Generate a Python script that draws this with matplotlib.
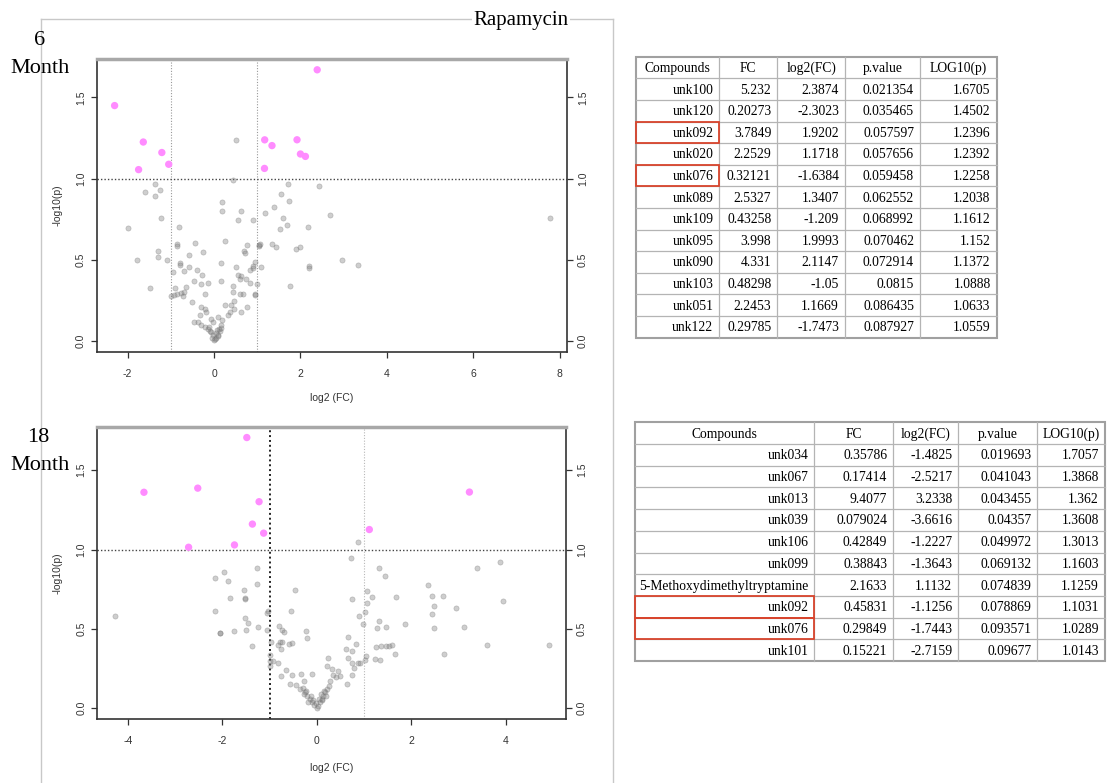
import matplotlib
matplotlib.use("Agg")
import matplotlib.pyplot as plt
from matplotlib.patches import Rectangle

plt.rcParams['axes.unicode_minus'] = False

# ---------------- data ----------------
# 6 month volcano: non-significant points (log2 FC, -log10 p)
top_gray_x = [0.51, 0.435, -1.36, -1.25, -1.61, -1.37, 0.19, 0.19, 0.62, 0.56, 0.91, -1.24, -2.0, -0.82,
              0.26, -0.86, -0.86, -0.435, 0.76, 1.03, -0.26, 0.69, 0.72, -0.57, -1.30, -1.30, -1.79, -1.08,
              0.17, 0.95, -0.80, -0.80, -0.96, -0.70, -0.57, -0.39, 0.51, 0.91, 0.83, -0.27, 0.55, 0.62,
              0.59, -0.455, -0.30, -0.14, 0.15, 0.74, 0.83, -1.49, -0.91, 0.44, -0.65, -1.0, -0.93, -0.85,
              -0.77, -0.72, -0.69, -0.20, 0.67, 0.94, 0.44, 0.61, -0.51, -0.31, -0.22, -0.18, 0.26, 0.40,
              0.47, 0.46, 0.36, 0.32, 0.63, 0.77, -0.33, -0.47, -0.06, -0.03, 0.09, 0.19, -0.37, -0.30,
              -0.22, -0.15, -0.08, -0.03, 0.0, 0.05, 0.10, 0.14, 0.12, -0.12, 0.02, -0.05, 0.08, 0.17,
              -0.10, 0.04, 0.15, 0.06,
              1.71, 2.44, 1.54, 1.74, 1.38, 1.18, 2.68, 1.60, 1.69, 1.53, 2.17, 1.05, 1.07, 1.33, 1.43,
              1.89, 2.0, 2.96, 3.34, 2.19, 2.19, 0.90, 1.08, 0.99, 1.75, 0.94, 7.77]
top_gray_y = [1.24, 0.99, 0.967, 0.932, 0.918, 0.891, 0.854, 0.803, 0.799, 0.743, 0.745, 0.76, 0.698, 0.70,
              0.619, 0.60, 0.585, 0.605, 0.594, 0.588, 0.549, 0.555, 0.545, 0.53, 0.553, 0.517, 0.50, 0.50,
              0.479, 0.49, 0.484, 0.468, 0.428, 0.434, 0.454, 0.438, 0.458, 0.464, 0.44, 0.408, 0.41, 0.404,
              0.38, 0.369, 0.353, 0.36, 0.369, 0.38, 0.358, 0.324, 0.328, 0.338, 0.336, 0.28, 0.285, 0.29,
              0.295, 0.28, 0.30, 0.289, 0.29, 0.29, 0.30, 0.29, 0.238, 0.21, 0.20, 0.18, 0.22, 0.22,
              0.25, 0.20, 0.18, 0.16, 0.18, 0.21, 0.16, 0.116, 0.137, 0.116, 0.147, 0.127, 0.116, 0.10,
              0.09, 0.076, 0.055, 0.035, 0.004, 0.02, 0.04, 0.06, 0.076, 0.085, 0.01, 0.02, 0.03, 0.08,
              0.06, 0.05, 0.10, 0.07,
              0.969, 0.956, 0.905, 0.862, 0.827, 0.786, 0.778, 0.76, 0.713, 0.688, 0.70, 0.592, 0.596,
              0.598, 0.582, 0.569, 0.578, 0.50, 0.471, 0.465, 0.45, 0.449, 0.455, 0.352, 0.338, 0.287, 0.758]

# 18 month volcano: non-significant points
bot_gray_x = [-1.257, -1.96, -2.15, -1.89, -1.27, -1.55, -0.47, -1.83, -1.52, -1.52, -2.15, -1.04, -1.05,
              -0.54, -4.28, -1.52, -1.45, -1.24, -1.06, -2.06, -2.05, -1.76, -1.51, -0.81, -0.74, -0.69,
              -0.23, -0.21, -0.97, -0.78, -0.73, -0.83, -0.75, -0.58, -0.53, -1.38, -0.99, -1.0, -1.0,
              -0.92, -0.83, -0.66, -0.755, -0.53, -0.33, -0.27, -0.10, -0.56, -0.43,
              -0.35, -0.30, -0.25, -0.20, -0.15, -0.10, -0.05, 0.0, 0.03, -0.02, -0.28, -0.22, -0.12,
              -0.08, 0.06, 0.10, 0.14, 0.18, 0.22, 0.26, 0.12, 0.08, 0.20, 0.16, -0.18, 0.04,
              0.88, 0.726, 1.325, 1.44, 3.39, 3.88, 2.35, 3.95, 1.065, 1.18, 1.68, 2.45, 2.67, 0.75, 1.07,
              2.48, 2.95, 2.44, 1.03, 0.89, 1.32, 0.98, 1.28, 1.47, 1.87, 2.49, 3.11, 0.656, 0.83, 0.61,
              0.74, 1.25, 1.36, 1.47, 1.54, 1.60, 3.60, 4.91, 1.66, 2.69, 1.04, 1.02, 1.24, 1.33, 0.24,
              0.67, 0.87, 0.92, 0.74, 0.78, 0.225, 0.32, 0.44, 0.49, 0.35, 0.75, 0.65, 0.40, 0.28]
bot_gray_y = [0.881, 0.86, 0.818, 0.803, 0.783, 0.745, 0.747, 0.693, 0.69, 0.695, 0.613, 0.61, 0.60,
              0.61, 0.578, 0.57, 0.537, 0.514, 0.494, 0.471, 0.475, 0.485, 0.49, 0.52, 0.494, 0.48,
              0.488, 0.44, 0.42, 0.42, 0.42, 0.40, 0.37, 0.405, 0.41, 0.392, 0.338, 0.296, 0.265,
              0.296, 0.283, 0.24, 0.203, 0.21, 0.215, 0.17, 0.215, 0.15, 0.145,
              0.12, 0.13, 0.10, 0.08, 0.06, 0.04, 0.02, 0.003, 0.015, 0.03, 0.09, 0.11, 0.08,
              0.05, 0.04, 0.06, 0.08, 0.10, 0.12, 0.14, 0.05, 0.09, 0.08, 0.11, 0.04, 0.06,
              1.048, 0.944, 0.881, 0.835, 0.881, 0.923, 0.775, 0.678, 0.737, 0.703, 0.703, 0.707, 0.707,
              0.69, 0.666, 0.643, 0.63, 0.592, 0.606, 0.584, 0.547, 0.53, 0.503, 0.509, 0.531, 0.506,
              0.51, 0.45, 0.402, 0.37, 0.36, 0.385, 0.39, 0.39, 0.39, 0.40, 0.40, 0.40, 0.34, 0.34, 0.33,
              0.303, 0.31, 0.305, 0.315, 0.315, 0.286, 0.286, 0.285, 0.255, 0.263, 0.246, 0.232, 0.2,
              0.209, 0.207, 0.155, 0.197, 0.17]

# tables (significant features)
table_header = ['Compounds', 'FC', 'log2(FC)', 'p.value', 'LOG10(p)']

t1_compounds = ['unk100', 'unk120', 'unk092', 'unk020', 'unk076', 'unk089', 'unk109', 'unk095',
                'unk090', 'unk103', 'unk051', 'unk122']
t1_fc = ['5.232', '0.20273', '3.7849', '2.2529', '0.32121', '2.5327', '0.43258', '3.998', '4.331',
         '0.48298', '2.2453', '0.29785']
t1_log2fc = ['2.3874', '-2.3023', '1.9202', '1.1718', '-1.6384', '1.3407', '-1.209', '1.9993', '2.1147',
             '-1.05', '1.1669', '-1.7473']
t1_pvalue = ['0.021354', '0.035465', '0.057597', '0.057656', '0.059458', '0.062552', '0.068992',
             '0.070462', '0.072914', '0.0815', '0.086435', '0.087927']
t1_log10p = ['1.6705', '1.4502', '1.2396', '1.2392', '1.2258', '1.2038', '1.1612', '1.152', '1.1372',
             '1.0888', '1.0633', '1.0559']

t2_compounds = ['unk034', 'unk067', 'unk013', 'unk039', 'unk106', 'unk099', '5-Methoxydimethyltryptamine',
                'unk092', 'unk076', 'unk101']
t2_fc = ['0.35786', '0.17414', '9.4077', '0.079024', '0.42849', '0.38843', '2.1633', '0.45831', '0.29849',
         '0.15221']
t2_log2fc = ['-1.4825', '-2.5217', '3.2338', '-3.6616', '-1.2227', '-1.3643', '1.1132', '-1.1256',
             '-1.7443', '-2.7159']
t2_pvalue = ['0.019693', '0.041043', '0.043455', '0.04357', '0.049972', '0.069132', '0.074839',
             '0.078869', '0.093571', '0.09677']
t2_log10p = ['1.7057', '1.3868', '1.362', '1.3608', '1.3013', '1.1603', '1.1259', '1.1031', '1.0289',
             '1.0143']

highlighted = ['unk092', 'unk076']

top_xticks = [-2, 0, 2, 4, 6, 8]
bot_xticks = [-4, -2, 0, 2, 4]
y_ticks = [0.0, 0.5, 1.0, 1.5]
y_ticklabels = ['0.0', '0.5', '1.0', '1.5']

# ---------------- figure ----------------
W, H = 1107, 783
fig = plt.figure(figsize=(W / 100, H / 100), dpi=100)
fig.patch.set_facecolor('white')

SERIF = ['Liberation Serif', 'DejaVu Serif']
SANS = ['Liberation Sans', 'DejaVu Sans']

bg = fig.add_axes([0, 0, 1, 1])
bg.set_xlim(0, W)
bg.set_ylim(H, 0)
bg.axis('off')

# page frame lines around the pasted plots
bg.plot([40.7, 40.7], [19.3, H], color='#c8c8c8', lw=1)
bg.plot([40.7, 612.7], [19.3, 19.3], color='#c8c8c8', lw=1)
bg.plot([612.7, 612.7], [19.3, H], color='#c8c8c8', lw=1)

bg.text(521, 25, 'Rapamycin', family=SERIF, fontsize=15, ha='center', va='baseline',
        bbox=dict(facecolor='white', edgecolor='none', pad=1))
bg.text(40, 45, '6', family=SERIF, fontsize=16, ha='center', va='baseline')
bg.text(40, 73, 'Month', family=SERIF, fontsize=16, ha='center', va='baseline')
bg.text(38, 442, '18', family=SERIF, fontsize=16, ha='center', va='baseline')
bg.text(40, 470, 'Month', family=SERIF, fontsize=16, ha='center', va='baseline')


def fig_rect(l, t, r, b):
    return [l / W, 1 - b / H, (r - l) / W, (b - t) / H]


def volcano(rect, gx, gy, sx, sy, xlim, ylim, xticks, vstyle, xlab_y):
    ax = fig.add_axes(rect)
    ax.scatter(gx, gy, s=14, facecolor=(0.5, 0.5, 0.5, 0.38), edgecolor=(0.4, 0.4, 0.4, 0.35),
               lw=0.5, zorder=2)
    ax.scatter(sx, sy, s=28, color='#ff8cff', edgecolor='none', zorder=3)
    for xv, (c, lw) in zip([-1, 1], vstyle):
        ax.axvline(xv, color=c, lw=lw, ls=(0, (1, 1.5)), zorder=1)
    ax.axhline(1.0, color='#444444', lw=1.0, ls=(0, (1, 1.5)), zorder=1)
    ax.set_xlim(*xlim)
    ax.set_ylim(*ylim)
    ax.set_xticks(xticks)
    ax.set_xticklabels([str(v) for v in xticks])
    ax.set_yticks(y_ticks)
    ax.set_yticklabels(y_ticklabels)
    ax.tick_params(axis='both', direction='out', length=4, width=0.9, color='#333333',
                   labelsize=7.5, labelcolor='#333333')
    ax.tick_params(axis='x', pad=8)
    ax.tick_params(axis='y', labelrotation=90, right=True, labelright=True, pad=4)
    for lab in ax.get_yticklabels():
        lab.set_va('center')
    for sp in ['left', 'right', 'bottom']:
        ax.spines[sp].set_color('#333333')
        ax.spines[sp].set_linewidth(1.2)
    ax.spines['top'].set_color('#a8a8a8')
    ax.spines['top'].set_linewidth(2.5)
    ax.set_xlabel('log2 (FC)', fontsize=7.5, color='#333333', family=SANS)
    ax.xaxis.set_label_coords(0.5, xlab_y)
    ax.xaxis.label.set_va('center')
    ax.set_ylabel('-log10(p)', fontsize=7.5, color='#333333', family=SANS)
    ax.yaxis.set_label_coords(-0.085, 0.5)
    ax.yaxis.label.set_va('center')
    for lab in ax.get_xticklabels() + ax.get_yticklabels():
        lab.set_family(SANS)
    return ax


sig1_x = [float(v) for v in t1_log2fc]
sig1_y = [float(v) for v in t1_log10p]
sig2_x = [float(v) for v in t2_log2fc]
sig2_y = [float(v) for v in t2_log10p]

volcano(fig_rect(97, 59, 567, 352), top_gray_x, top_gray_y, sig1_x, sig1_y,
        (-2.71, 8.17), (-0.067, 1.737), top_xticks,
        [('#999999', 0.8), ('#999999', 0.8)], -0.157)
volcano(fig_rect(97.3, 426.7, 566, 719), bot_gray_x, bot_gray_y, sig2_x, sig2_y,
        (-4.65, 5.28), (-0.068, 1.774), bot_xticks,
        [('#222222', 1.4), ('#b8b8b8', 0.8)], -0.168)


def draw_table(x_edges, top, row_h, columns, fontsize, red_rows):
    nrows = len(columns[0]) + 1
    bottom = top + nrows * row_h
    left, right = x_edges[0], x_edges[-1]
    for i in range(1, nrows):
        y = top + i * row_h
        bg.plot([left, right], [y, y], color='#b4b4b4', lw=0.9)
    for x in x_edges[1:-1]:
        bg.plot([x, x], [top, bottom], color='#b4b4b4', lw=0.9)
    bg.add_patch(Rectangle((left, top), right - left, bottom - top, fill=False,
                           edgecolor='#a0a0a0', lw=1.5))
    for j, name in enumerate(table_header):
        bg.text((x_edges[j] + x_edges[j + 1]) / 2, top + row_h / 2 + 1, name, family=SERIF,
                fontsize=fontsize, ha='center', va='center')
    for j, col in enumerate(columns):
        for i, val in enumerate(col):
            bg.text(x_edges[j + 1] - 6, top + (i + 1.5) * row_h + 1, val, family=SERIF,
                    fontsize=fontsize, ha='right', va='center')
    for i in red_rows:
        bg.add_patch(Rectangle((left, top + (i + 1) * row_h), x_edges[1] - left, row_h,
                               fill=False, edgecolor='#d8442c', lw=1.3, zorder=5))


draw_table([636, 719.3, 777.3, 845, 920, 996.7], 56.7, 21.6,
           [t1_compounds, t1_fc, t1_log2fc, t1_pvalue, t1_log10p], 9.8,
           [i for i, c in enumerate(t1_compounds) if c in highlighted])
draw_table([635, 814.3, 893.3, 958.3, 1037.3, 1105], 422.3, 21.7,
           [t2_compounds, t2_fc, t2_log2fc, t2_pvalue, t2_log10p], 9.8,
           [i for i, c in enumerate(t2_compounds) if c in highlighted])

fig.savefig('out.png', dpi=100, facecolor='white')
